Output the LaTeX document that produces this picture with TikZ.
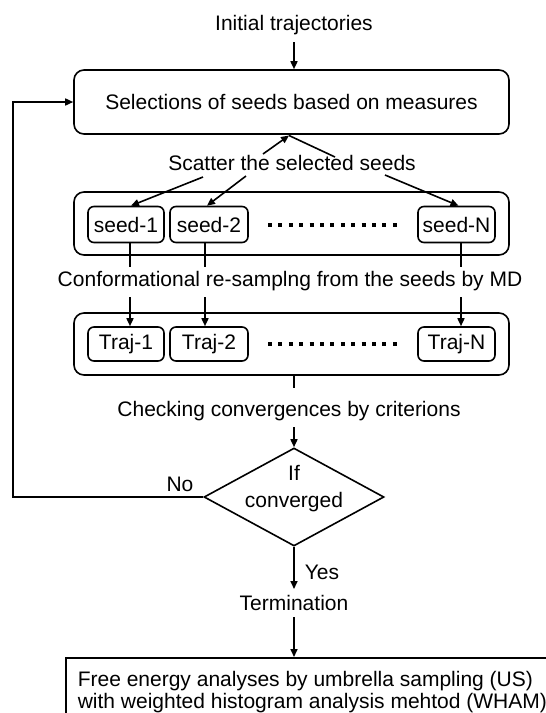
\documentclass[tikz,border=0pt]{standalone}
\usepackage{fontspec}
\setmainfont{Liberation Sans}
\usetikzlibrary{shapes.geometric,arrows.meta}
\begin{document}
\begin{tikzpicture}[x=1pt,y=-1pt,
  every node/.style={font=\fontsize{21}{25}\selectfont, inner sep=0pt},
  ln/.style={line width=1.6pt},
  arr/.style={ln,-{Triangle[length=8pt,width=7pt]}},
  bigbox/.style={draw,ln,rounded corners=10pt,minimum width=435pt},
  smallbox/.style={draw,ln,rounded corners=6pt,minimum height=36pt},
  dotrow/.style={line width=4pt,dash pattern=on 4pt off 6.4pt}]
\useasboundingbox (0,0) rectangle (546,713);
\clip (0,0) rectangle (546,713);
% top
\node (init) at (294,25) {Initial trajectories};
\node[bigbox,minimum height=64pt] (box1) at (291.5,102) {Selections of seeds based on measures};
\draw[arr] (init.south |- 0,42) -- (box1.north -| init.south);
% scatter
\node (scat) at (292,163) {Scatter the selected seeds};
\coordinate (up) at (289,135.5);
\coordinate (scL) at (263,154);
\coordinate (scR) at (335,157);
\draw[arr] (scL) -- (up);
\draw[ln] (up) -- (scR);
% seeds
\node[bigbox,minimum height=63pt] (box2) at (291.5,223.5) {};
\node[smallbox,minimum width=76pt] (seed1) at (126,224.5) {seed-1};
\node[smallbox,minimum width=78pt] (seed2) at (209,224.5) {seed-2};
\node[smallbox,minimum width=77pt] (seedN) at (456.5,224.5) {seed-N};
\coordinate (d1a) at (268,224.5);
\coordinate (d1b) at (402,224.5);
\draw[dotrow] (d1a) -- (d1b);
\coordinate (s1) at (203,177);
\coordinate (s2) at (246,176);
\coordinate (s3) at (385,175);
\draw[arr] (s1) -- ([xshift=5pt]seed1.north);
\draw[arr] (s2) -- ([xshift=-2pt]seed2.north);
\draw[arr] (s3) -- ([xshift=2pt]seedN.north);
% conformational
\node (conf) at (290,281) {Conformational re-samplng from the seeds by MD};
\coordinate (v1a) at (130,267);
\coordinate (v2a) at (205,267);
\coordinate (v3a) at (461,267);
\coordinate (v1b) at (130,297);
\coordinate (v2b) at (205,297);
\coordinate (v3b) at (461,297);
\node[bigbox,minimum height=62pt] (box3) at (291.5,344) {};
\node[smallbox,minimum width=76pt,minimum height=34pt] (traj1) at (126,344) {Traj-1};
\node[smallbox,minimum width=78pt,minimum height=34pt] (traj2) at (209,344) {Traj-2};
\node[smallbox,minimum width=77pt,minimum height=34pt] (trajN) at (456.5,344) {Traj-N};
\coordinate (d2a) at (268,344);
\coordinate (d2b) at (402,344);
\draw[dotrow] (d2a) -- (d2b);
\draw[ln] (v1a |- seed1.south) -- (v1a);
\draw[ln] (v2a |- seed2.south) -- (v2a);
\draw[ln] (v3a |- seedN.south) -- (v3a);
\draw[arr] (v1b) -- (v1b |- traj1.north);
\draw[arr] (v2b) -- (v2b |- traj2.north);
\draw[arr] (v3b) -- (v3b |- trajN.north);
% checking
\node (check) at (289,411) {Checking convergences by criterions};
\coordinate (ck1) at (294,388);
\coordinate (ck2) at (294,427);
\draw[ln] (box3.south -| ck1) -- (ck1);
\node[diamond,draw,ln,minimum width=180pt,minimum height=98pt] (dia) at (294,497) {};
\draw[arr] (ck2) -- (dia.north);
\node[align=center,font=\fontsize{21}{27}\selectfont] (diat) at (294,489) {If\\converged};
\node (no) at (180,484) {No};
\coordinate (loopL) at (13,300);
\draw[arr] (dia.west) -- (loopL |- dia.west) |- (box1.west);
% yes
\node (term) at (294,603) {Termination};
\coordinate (yesend) at (294,589);
\draw[arr] (dia.south) -- (yesend);
\node (yes) at (322,572) {Yes};
\node[draw,ln,anchor=north west,inner xsep=12pt,inner ysep=13pt,font=\fontsize{21}{22}\selectfont] (fe) at (65,657) {\parbox[t][90pt][t]{540pt}{Free energy analyses by umbrella sampling (US)\\with weighted histogram analysis mehtod (WHAM)}};
\coordinate (t1) at (294,617);
\draw[arr] (t1) -- (fe.north -| t1);
\end{tikzpicture}
\end{document}
